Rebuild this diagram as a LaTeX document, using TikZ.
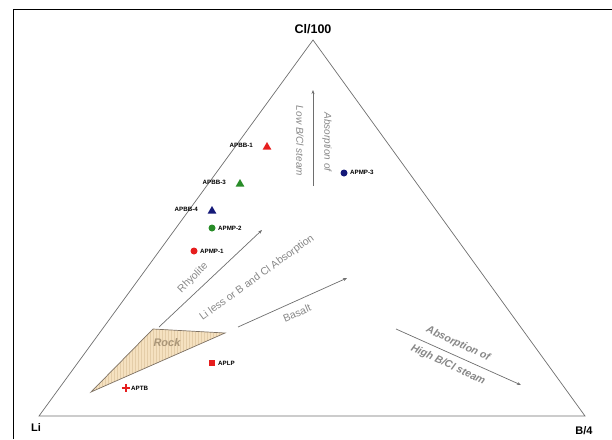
\documentclass[tikz,border=0pt]{standalone}
\usepackage{fontspec}
\setmainfont{Liberation Sans}
\usetikzlibrary{shapes.geometric,arrows.meta,patterns}
\definecolor{axisgray}{RGB}{110,110,110}
\definecolor{txtgray}{RGB}{135,135,135}
\definecolor{rockfill}{RGB}{245,225,192}
\definecolor{rockline}{RGB}{228,205,168}
\definecolor{rocktxt}{RGB}{170,150,120}
\definecolor{mred}{RGB}{230,30,30}
\definecolor{mgreen}{RGB}{40,140,40}
\definecolor{mnavy}{RGB}{20,25,120}
\tikzset{
  axisline/.style={draw=axisgray, line width=0.7pt},
  trendarrow/.style={draw=axisgray, line width=0.7pt, -{Stealth[length=4pt,width=3pt]}},
  vertexlabel/.style={font=\bfseries\fontsize{11}{11}\selectfont, inner sep=0pt},
  ptlabel/.style={font=\bfseries\fontsize{6.2}{6.2}\selectfont, inner sep=0pt},
  grayup/.style={font=\fontsize{10.5}{10.5}\selectfont, text=txtgray, inner sep=0pt},
  grayit/.style={font=\itshape\fontsize{10}{10}\selectfont, text=txtgray, inner sep=0pt},
  grayitbig/.style={font=\bfseries\itshape\fontsize{10.5}{10.5}\selectfont, text=txtgray, inner sep=0pt},
  tri/.style={regular polygon, regular polygon sides=3, minimum size=10pt, inner sep=0pt},
  dot/.style={circle, minimum size=7pt, inner sep=0pt},
  sq/.style={rectangle, minimum size=6.5pt, inner sep=0pt, fill=mred},
}
\begin{document}
\begin{tikzpicture}[x=1pt,y=-1pt]
\useasboundingbox (0,0) rectangle (612,439);
% frame
\draw[black, line width=0.9pt] (13,439) -- (13,9) -- (612,9);
% ternary triangle
\coordinate (top) at (313,40);
\coordinate (li) at (39,416);
\coordinate (b4) at (585,416);
\draw[axisline] (li) -- (top) -- (b4) -- cycle;
\node[vertexlabel, font=\bfseries\fontsize{12.5}{12.5}\selectfont] (cllab) at (313,29) {Cl/100};
\node[vertexlabel] (lilab) at (36,428) {Li};
\node[vertexlabel] (b4lab) at (584,431) {B/4};
% rock field
\coordinate (r1) at (153,329);
\coordinate (r2) at (225,333);
\coordinate (r3) at (91,392);
\fill[rockfill] (r1) -- (r2) -- (r3) -- cycle;
\fill[pattern=vertical lines, pattern color=rockline] (r1) -- (r2) -- (r3) -- cycle;
\draw[draw=axisgray!80!brown, line width=0.7pt] (r1) -- (r2) -- (r3) -- cycle;
\node[font=\bfseries\itshape\fontsize{11}{11}\selectfont, text=rocktxt, inner sep=0pt] (rock) at (167,343) {Rock};
% trend arrows
\coordinate (rhyA) at (159,327);
\coordinate (rhyB) at (262,230);
\draw[trendarrow] (rhyA) -- (rhyB);
\coordinate (basA) at (238,327);
\coordinate (basB) at (347,278);
\draw[trendarrow] (basA) -- (basB);
\coordinate (lowA) at (313,186);
\coordinate (lowB) at (313,90);
\draw[trendarrow] (lowA) -- (lowB);
\coordinate (hiA) at (396,329);
\coordinate (hiB) at (521,385);
\draw[trendarrow] (hiA) -- (hiB);
% trend labels
\node[grayup, rotate=45] (rhy) at (193,278) {Rhyolite};
\node[grayup, rotate=36] (liless) at (257,278) {Li less or B and Cl Absorption};
\node[grayup, rotate=23] (bas) at (297,313) {Basalt};
\node[grayit, rotate=-90] (lowabs) at (327,142) {Absorption of};
\node[grayit, rotate=-90] (lowst) at (300,141) {Low B/Cl steam};
\node[grayitbig, rotate=-25] (hiabs) at (458,344) {Absorption of};
\node[grayitbig, rotate=-25] (hist) at (448,365) {High B/Cl steam};
% data points
\node[tri, fill=mred] (apbb1) at (267,147) {};
\node[ptlabel, anchor=east] (apbb1l) at (253,145) {APBB-1};
\node[tri, fill=mgreen] (apbb3) at (240,184) {};
\node[ptlabel, anchor=east] (apbb3l) at (226,182) {APBB-3};
\node[tri, fill=mnavy] (apbb4) at (212,211) {};
\node[ptlabel, anchor=east] (apbb4l) at (198,209) {APBB-4};
\node[dot, fill=mgreen] (apmp2) at (212,228) {};
\node[ptlabel, anchor=west] (apmp2l) at (218,228) {APMP-2};
\node[dot, fill=mred] (apmp1) at (194,251) {};
\node[ptlabel, anchor=west] (apmp1l) at (200,251) {APMP-1};
\node[dot, fill=mnavy] (apmp3) at (344,173) {};
\node[ptlabel, anchor=west] (apmp3l) at (350,172) {APMP-3};
\node[sq] (aplp) at (212,363) {};
\node[ptlabel, anchor=west] (aplpl) at (218,363) {APLP};
\node[inner sep=0pt, minimum size=8pt] (aptb) at (126,388) {};
\draw[mred, line width=2.6pt] (aptb.west) -- (aptb.east) (aptb.north) -- (aptb.south);
\node[ptlabel, anchor=west] (aptbl) at (131,388) {APTB};
\end{tikzpicture}
\end{document}
